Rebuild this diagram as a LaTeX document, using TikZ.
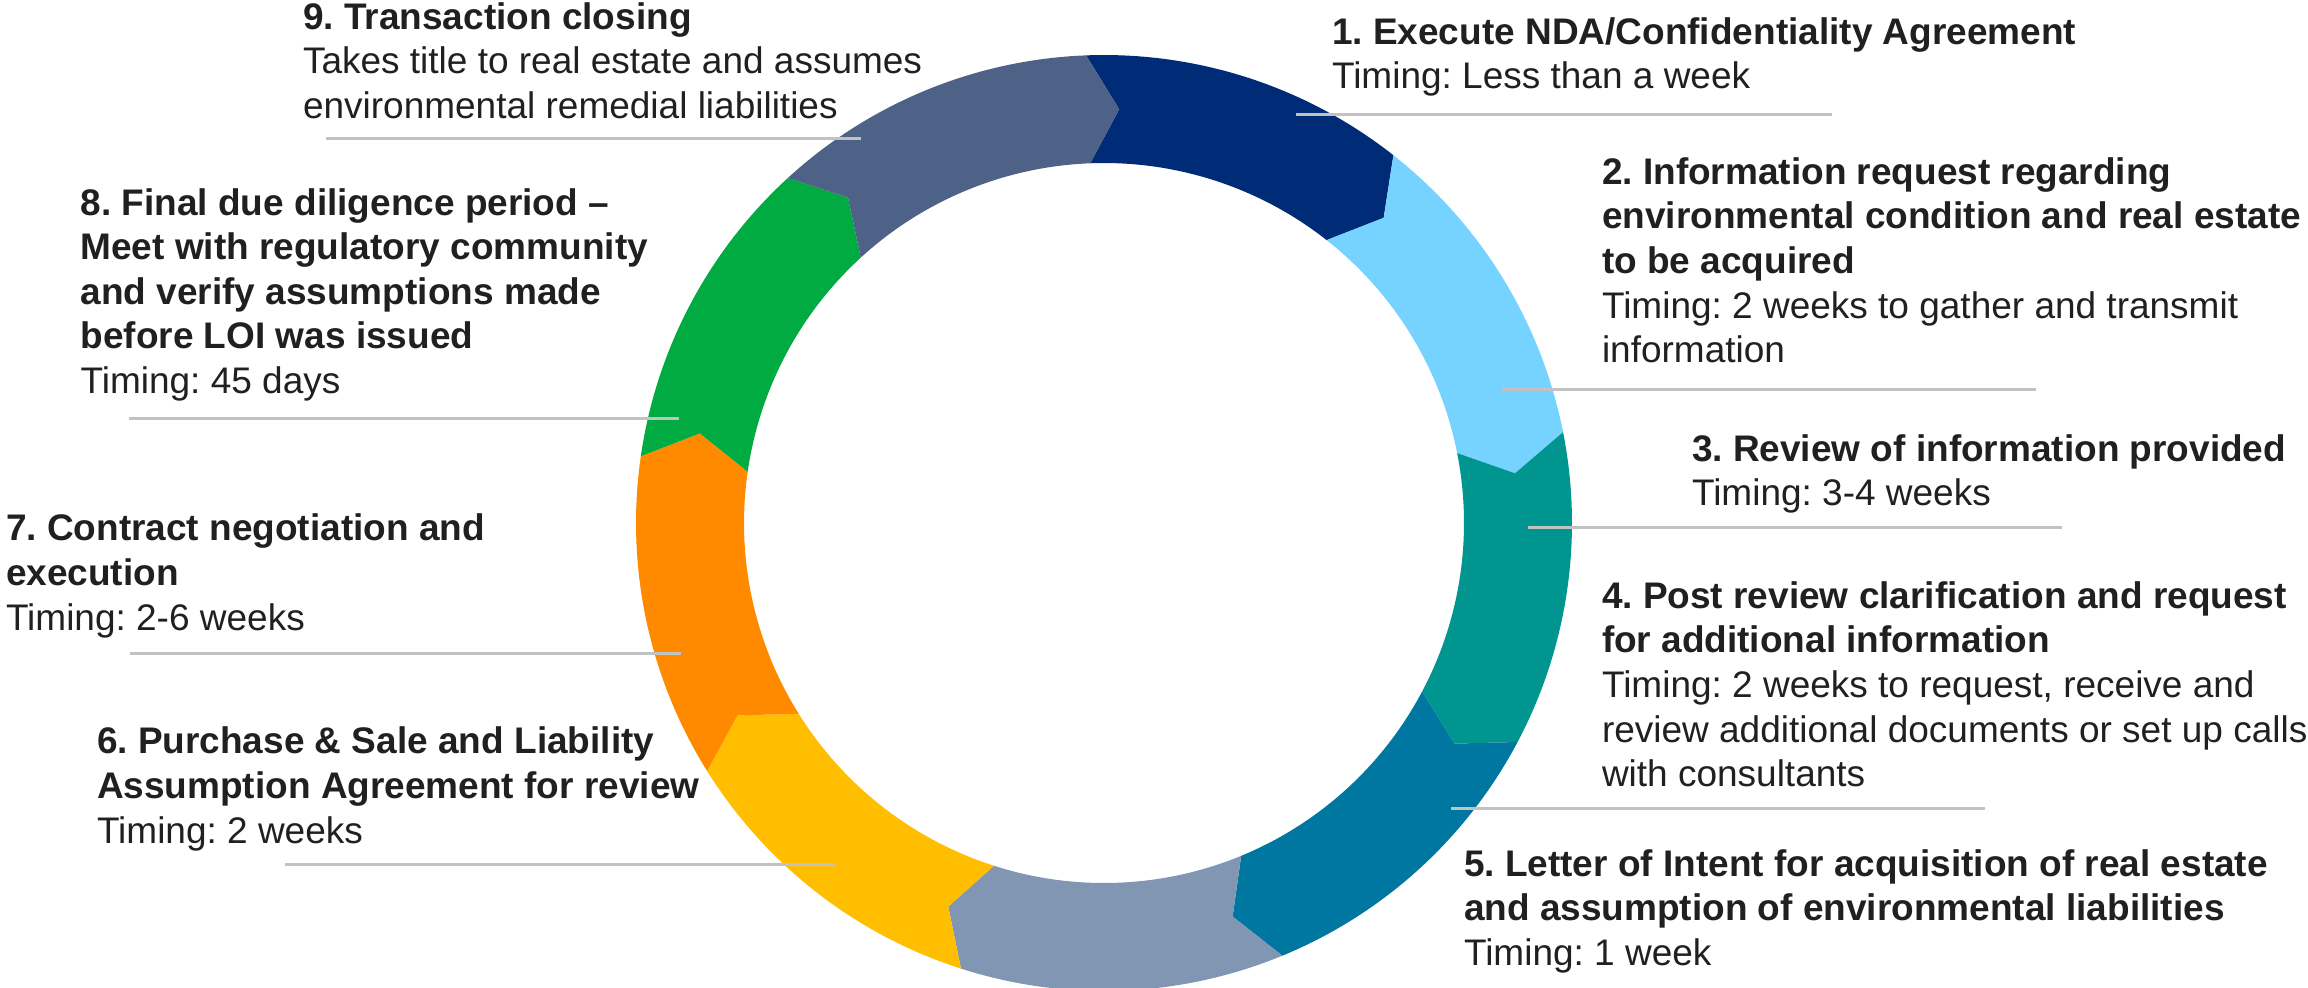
\documentclass[tikz,border=0pt]{standalone}
\usepackage{fontspec}
\setmainfont{Liberation Sans}
\frenchspacing
\definecolor{segA}{HTML}{002C77}
\definecolor{segB}{HTML}{76D2FF}
\definecolor{segC}{HTML}{00968F}
\definecolor{segD}{HTML}{0077A0}
\definecolor{segE}{HTML}{8096B2}
\definecolor{segF}{HTML}{FFBE00}
\definecolor{segG}{HTML}{FF8A00}
\definecolor{segH}{HTML}{00AC41}
\definecolor{segI}{HTML}{4E6287}
\definecolor{txt}{HTML}{202020}
\definecolor{leadgray}{HTML}{C2C2C2}
% ring geometry (pixel units)
\newcommand{\ringR}{468}
\newcommand{\ringr}{360}
\newcommand{\ringm}{414}
\newcommand{\ringtip}{4.3}
% one chevron-shaped ring piece: colour, start angle, end angle (counter-clockwise degrees, start > end)
\newcommand{\ringpart}[3]{%
  \fill[#1] ({-(#2)}:\ringR) arc[start angle={-(#2)}, end angle={-(#3)}, radius=\ringR]
    -- ({-(#3)+\ringtip}:\ringm) -- ({-(#3)}:\ringr)
    arc[start angle={-(#3)}, end angle={-(#2)}, radius=\ringr]
    -- ({-(#2)+\ringtip}:\ringm) -- cycle;}
\begin{document}
\begin{tikzpicture}[x=0.5pt,y=-0.5pt,
  steplabel/.style={anchor=north west, inner sep=0pt, outer sep=0pt, align=left,
    text=txt, font=\fontsize{18.5pt}{22.3pt}\selectfont},
  leader/.style={draw=leadgray, line width=1.5pt}]
\useasboundingbox (0,0) rectangle (2308,987);
\clip (0,0) rectangle (2308,987);

% process ring
\begin{scope}[shift={(1104,523)}]
  \ringpart{segA}{92.2}{51.8}
  \ringpart{segB}{51.8}{11.2}
  \ringpart{segC}{11.2}{-27.9}
  \ringpart{segD}{-27.9}{-67.6}
  \ringpart{segE}{-67.6}{-107.8}
  \ringpart{segF}{-107.8}{-148}
  \ringpart{segG}{-148}{-188.2}
  \ringpart{segH}{171.8}{132.5}
  \ringpart{segI}{132.5}{92.2}
\end{scope}

% step texts
\node[steplabel] (lab1) at (1332,12) {\rule{0pt}{16pt}\textbf{1. Execute NDA/Confidentiality Agreement}\\Timing: Less than a week};
\node[steplabel] (lab2) at (1602,152.3) {\rule{0pt}{16pt}\textbf{2. Information request regarding}\\\textbf{environmental condition and real estate}\\\textbf{to be acquired}\\Timing: 2 weeks to gather and transmit\\information};
\node[steplabel] (lab3) at (1692,429) {\rule{0pt}{16pt}\textbf{3. Review of information provided}\\Timing: 3-4 weeks};
\node[steplabel] (lab4) at (1602,576.3) {\rule{0pt}{16pt}\textbf{4. Post review clarification and request}\\\textbf{for additional information}\\Timing: 2 weeks to request, receive and\\review additional documents or set up calls\\with consultants};
\node[steplabel] (lab5) at (1464,844) {\rule{0pt}{16pt}\textbf{5. Letter of Intent for acquisition of real estate}\\\textbf{and assumption of environmental liabilities}\\Timing: 1 week};
\node[steplabel] (lab6) at (97,721.8) {\rule{0pt}{16pt}\textbf{6. Purchase \& Sale and Liability}\\\textbf{Assumption Agreement for review}\\Timing: 2 weeks};
\node[steplabel] (lab7) at (6,508.8) {\rule{0pt}{16pt}\textbf{7. Contract negotiation and}\\\textbf{execution}\\Timing: 2-6 weeks};
\node[steplabel] (lab8) at (80.6,183) {\rule{0pt}{16pt}\textbf{8. Final due diligence period –}\\\textbf{Meet with regulatory community}\\\textbf{and verify assumptions made}\\\textbf{before LOI was issued}\\Timing: 45 days};
\node[steplabel] (lab9) at (303,-2.7) {\rule{0pt}{16pt}\textbf{9. Transaction closing}\\Takes title to real estate and assumes\\environmental remedial liabilities};

% leader lines
\coordinate (l1a) at (1296,114.3); \coordinate (l1b) at (1832,114.3);
\coordinate (l2a) at (1502,389.3); \coordinate (l2b) at (2036,389.3);
\coordinate (l3a) at (1528,527.3); \coordinate (l3b) at (2062,527.3);
\coordinate (l4a) at (1451,808.3); \coordinate (l4b) at (1985,808.3);
\coordinate (l6a) at (835,864);    \coordinate (l6b) at (285,864);
\coordinate (l7a) at (681,653.4);  \coordinate (l7b) at (130,653.4);
\coordinate (l8a) at (679,418.3);  \coordinate (l8b) at (129,418.3);
\coordinate (l9a) at (861,138.7);  \coordinate (l9b) at (326,138.7);
\foreach \k in {1,2,3,4,6,7,8,9} {\draw[leader] (l\k a) -- (l\k b);}
\end{tikzpicture}
\end{document}
